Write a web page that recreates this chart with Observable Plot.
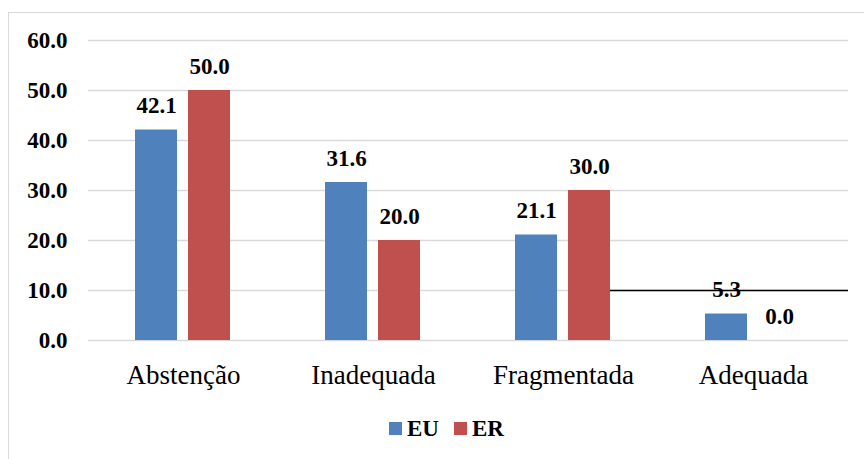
<!DOCTYPE html>
<html>
<head>
<meta charset="utf-8">
<script src="https://cdn.jsdelivr.net/npm/d3@7"></script>
<script src="https://cdn.jsdelivr.net/npm/@observablehq/plot@0.6"></script>
<style>
  body { margin: 0; background: #fff; }
  #wrap { position: relative; width: 864px; height: 459px; overflow: hidden; font-family: "Liberation Serif", Tinos, "Nimbus Roman", "Times New Roman", "DejaVu Serif", serif; }
  #frame { position: absolute; left: 8px; top: 12px; width: 920px; height: 520px; border: 1px solid #d9d9d9; box-sizing: border-box; }
  #chart { position: absolute; left: 0; top: 0; }
  #chart svg g[aria-label^="fx-axis"] { font-size: 27px; font-weight: normal; }
  #chart svg g[aria-label^="y-axis"] { font-size: 23px; font-weight: bold; }
  #legend { position: absolute; left: 389px; top: 417px; display: flex; align-items: center; font-weight: bold; font-size: 23px; line-height: 23px; color: #000; }
  #legend .sw { width: 13px; height: 13px; display: inline-block; margin-right: 5px; }
  #legend .item { display: flex; align-items: center; margin-right: 15px; }
</style>
</head>
<body>
<div id="wrap">
  <div id="frame"></div>
  <div id="chart"></div>
  <div id="legend"></div>
</div>
<script>
const categories = ["Abstenção", "Inadequada", "Fragmentada", "Adequada"];
const series = ["EU", "ER"];
const euValues = [42.1, 31.6, 21.1, 5.3];
const erValues = [50.0, 20.0, 30.0, 0.0];
const yTicks = [0, 10, 20, 30, 40, 50, 60];
const seriesColors = ["#4f81bd", "#c0504d"];
// stray black line seen in the reference at the 10.0 gridline
const strayFrom = [{category: "Fragmentada", from: "ER", value: 10}];
const strayFull = [{category: "Adequada", value: 10}];

const fontStack = '"Liberation Serif", Tinos, "Nimbus Roman", "Times New Roman", "DejaVu Serif", serif';

const rows = categories.flatMap((c, i) => [
  {category: c, series: "EU", value: euValues[i]},
  {category: c, series: "ER", value: erValues[i]}
]);

const chart = Plot.plot({
  width: 864,
  height: 400,
  marginLeft: 88,
  marginRight: 16,
  marginTop: 40,
  marginBottom: 60,
  style: { fontFamily: fontStack, fontSize: "23px", background: "transparent", color: "#000", overflow: "visible" },
  fx: { domain: categories, padding: 0, axis: "bottom", label: null, tickSize: 0, tickPadding: 24 },
  x: { domain: series, paddingInner: 0.2, paddingOuter: 0.86, axis: null },
  y: { domain: [0, 60], ticks: yTicks, tickFormat: d => d.toFixed(1), tickSize: 0, tickPadding: 21, label: null },
  color: { domain: series, range: seriesColors },
  marks: [
    Plot.ruleY(yTicks, { stroke: "#d9d9d9", strokeWidth: 1.3 }),
    Plot.ruleY(strayFrom, {
      fx: "category", x1: "from", x2: "from", y: "value", stroke: "#000", strokeWidth: 1.7,
      render(index, scales, values, dimensions, context, next) {
        const g = next(index, scales, values, dimensions, context);
        const end = dimensions.width - dimensions.marginRight;
        d3.select(g).selectAll("line").each(function () {
          const l = d3.select(this);
          l.attr("x1", l.attr("x2")).attr("x2", end);
        });
        return g;
      }
    }),
    Plot.ruleY(strayFull, { fx: "category", y: "value", stroke: "#000", strokeWidth: 1.7 }),
    Plot.barY(rows, { fx: "category", x: "series", y: "value", fill: "series" }),
    Plot.text(rows, { fx: "category", x: "series", y: "value", text: d => d.value.toFixed(1), lineAnchor: "bottom", dy: -17, fontWeight: "bold", fontSize: 23, fill: "#000" })
  ]
});
document.getElementById("chart").appendChild(chart);

const legend = document.getElementById("legend");
series.forEach((s, i) => {
  const item = document.createElement("span");
  item.className = "item";
  const sw = document.createElement("span");
  sw.className = "sw";
  sw.style.background = seriesColors[i];
  item.appendChild(sw);
  item.appendChild(document.createTextNode(s));
  legend.appendChild(item);
});
</script>
</body>
</html>
